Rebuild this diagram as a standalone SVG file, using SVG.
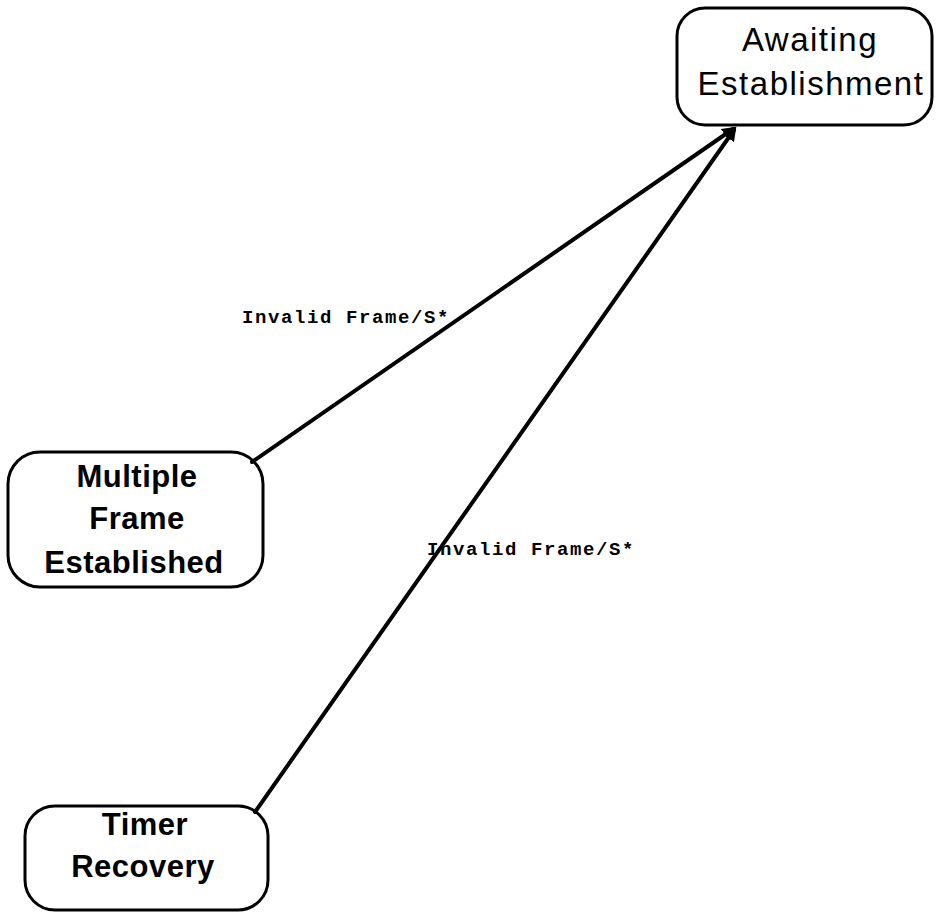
<svg xmlns="http://www.w3.org/2000/svg" width="936" height="913" viewBox="0 0 936 913">
  <style>
    .box { fill: #fff; stroke: #000; stroke-width: 3; }
    .edge { fill: none; stroke: #000; stroke-width: 4; stroke-linecap: round; }
    .title { font-family: "Liberation Sans", Arial, sans-serif; font-size: 33px; fill: #000; text-anchor: middle; letter-spacing: 1.5px; }
    .bold { font-weight: bold; font-size: 31px; letter-spacing: 0.5px; }
    .label { font-family: "Liberation Mono", "Courier New", monospace; font-size: 19px; font-weight: bold; fill: #000; letter-spacing: 1.6px; }
  </style>
  <defs>
    <marker id="arrow" markerWidth="3.5" markerHeight="3.5" refX="2.5" refY="1.75" orient="auto" markerUnits="strokeWidth">
      <path d="M0,0 L3.5,1.75 L0,3.5 Z" fill="#000"/>
    </marker>
  </defs>

  <g id="awaiting-establishment">
    <rect class="box" x="677" y="8" width="255" height="117" rx="28" ry="28"/>
    <text class="title" x="810" y="51">Awaiting</text>
    <text class="title" x="811" y="95">Establishment</text>
  </g>

  <g id="multiple-frame-established">
    <rect class="box" x="8" y="452" width="255" height="135" rx="32" ry="32"/>
    <text class="title bold" x="137" y="487">Multiple</text>
    <text class="title bold" x="137" y="529">Frame</text>
    <text class="title bold" x="134" y="573">Established</text>
  </g>

  <g id="timer-recovery">
    <rect class="box" x="25" y="806" width="243" height="104" rx="30" ry="30"/>
    <text class="title bold" x="145" y="835">Timer</text>
    <text class="title bold" x="143" y="877">Recovery</text>
  </g>

  <g id="connectors">
    <line class="edge" x1="252" y1="462" x2="733" y2="129" marker-end="url(#arrow)"/>
    <line class="edge" x1="255" y1="812" x2="734" y2="130" marker-end="url(#arrow)"/>
    <text class="label" x="242" y="323">Invalid Frame/S*</text>
    <text class="label" x="427" y="555">Invalid Frame/S*</text>
  </g>
</svg>
